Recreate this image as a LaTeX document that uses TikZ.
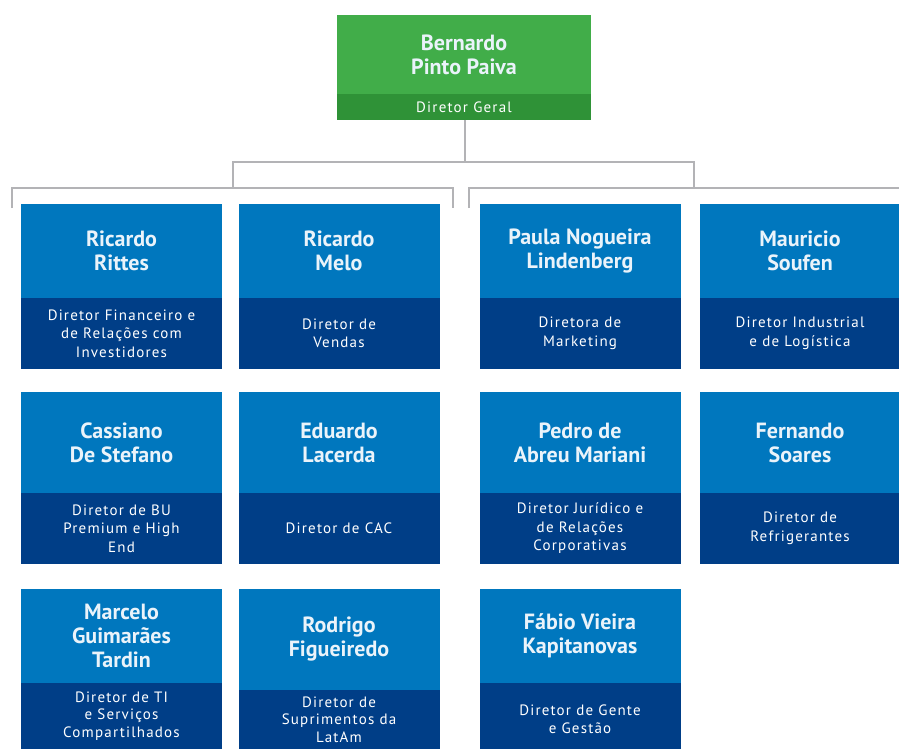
\documentclass[tikz,border=0pt]{standalone}
\usepackage{fontspec}
\setmainfont{PT Sans}
\newfontfamily\cargofont{PT Sans}[LetterSpace=8]
\usepackage{tikz}
\usetikzlibrary{positioning}

\definecolor{verdeclaro}{RGB}{65,173,73}
\definecolor{verdeescuro}{RGB}{47,146,55}
\definecolor{azulclaro}{RGB}{0,119,190}
\definecolor{azulescuro}{RGB}{0,62,135}
\definecolor{cinza}{RGB}{179,179,182}
\definecolor{textoclaro}{RGB}{234,243,250}

\begin{document}
\begin{tikzpicture}[x=1pt, y=-1pt,
  nome/.style={fill=azulclaro, text=textoclaro, anchor=north, align=center,
    minimum width=201pt, minimum height=94pt, inner sep=0pt, outer sep=0pt,
    font=\fontsize{22}{24}\selectfont\bfseries},
  cargo/.style={fill=azulescuro, text=white, align=center,
    minimum width=201pt, minimum height=71pt, inner sep=0pt, outer sep=0pt,
    font=\cargofont\fontsize{15}{18.5}\selectfont},
  chefe/.style={nome, fill=verdeclaro, minimum width=254pt, minimum height=79pt},
  chefecargo/.style={cargo, fill=verdeescuro, minimum width=254pt, minimum height=26pt},
  linha/.style={draw=cinza, line width=2pt}]

\useasboundingbox (0,0) rectangle (899,749);
\clip (0,0) rectangle (899,749);

% diretor geral
\node[chefe] (ceo) at (464,15) {Bernardo\\Pinto Paiva};
\node[chefecargo, below=0pt of ceo] (ceoCargo) {Diretor Geral};

% first row
\node[nome] (rittes) at (121.5,204) {Ricardo\\Rittes};
\node[cargo, below=0pt of rittes] (rittesCargo) {Diretor Financeiro e\\de Relações com\\Investidores};
\node[nome] (melo) at (339,204) {Ricardo\\Melo};
\node[cargo, below=0pt of melo] (meloCargo) {Diretor de\\Vendas};
\node[nome] (paula) at (580,204) {Paula Nogueira\\Lindenberg};
\node[cargo, below=0pt of paula] (paulaCargo) {Diretora de\\Marketing};
\node[nome] (soufen) at (800,204) {Mauricio\\Soufen};
\node[cargo, below=0pt of soufen] (soufenCargo) {Diretor Industrial\\e de Logística};

% second row
\node[nome, minimum height=101pt] (cassiano) at (121.5,392) {Cassiano\\De Stefano};
\node[cargo, below=0pt of cassiano] (cassianoCargo) {Diretor de BU\\Premium e High\\End};
\node[nome, minimum height=101pt] (lacerda) at (339,392) {Eduardo\\Lacerda};
\node[cargo, below=0pt of lacerda] (lacerdaCargo) {Diretor de CAC};
\node[nome, minimum height=101pt] (pedro) at (580,392) {Pedro de\\Abreu Mariani};
\node[cargo, below=0pt of pedro] (pedroCargo) {Diretor Jurídico e\\de Relações\\Corporativas};
\node[nome, minimum height=101pt] (soares) at (800,392) {Fernando\\Soares};
\node[cargo, below=0pt of soares] (soaresCargo) {Diretor de\\Refrigerantes};

% third row
\node[nome] (tardin) at (121.5,589) {Marcelo\\Guimarães\\Tardin};
\node[cargo, minimum height=66pt, below=0pt of tardin, font=\cargofont\fontsize{15}{17.5}\selectfont] (tardinCargo) {Diretor de TI\\e Serviços\\Compartilhados};
\node[nome, minimum height=101pt] (rodrigo) at (339,589) {Rodrigo\\Figueiredo};
\node[cargo, minimum height=59pt, below=0pt of rodrigo, font=\cargofont\fontsize{15}{17.5}\selectfont] (rodrigoCargo) {Diretor de\\Suprimentos da\\LatAm};
\node[nome] (fabio) at (580,589) {Fábio Vieira\\Kapitanovas};
\node[cargo, minimum height=72pt, below=0pt of fabio] (fabioCargo) {Diretor de Gente\\e Gestão};

% draw connectors
\coordinate (topo) at (465,162);
\coordinate (ramoE) at (233,188);
\coordinate (ramoD) at (694,188);
\coordinate (chaveE1) at (12,208);
\coordinate (chaveE2) at (453,208);
\coordinate (chaveD1) at (469,208);
\coordinate (chaveD2) at (905,188);

\draw[linha] (ceoCargo.south -| topo) -- (topo);
\draw[linha] (ramoE) -- (ramoE |- topo) -- (ramoD |- topo) -- (ramoD);
\draw[linha] (chaveE1) |- (chaveE2 |- ramoE) -- (chaveE2);
\draw[linha] (chaveD1) |- (chaveD2);

\end{tikzpicture}
\end{document}
